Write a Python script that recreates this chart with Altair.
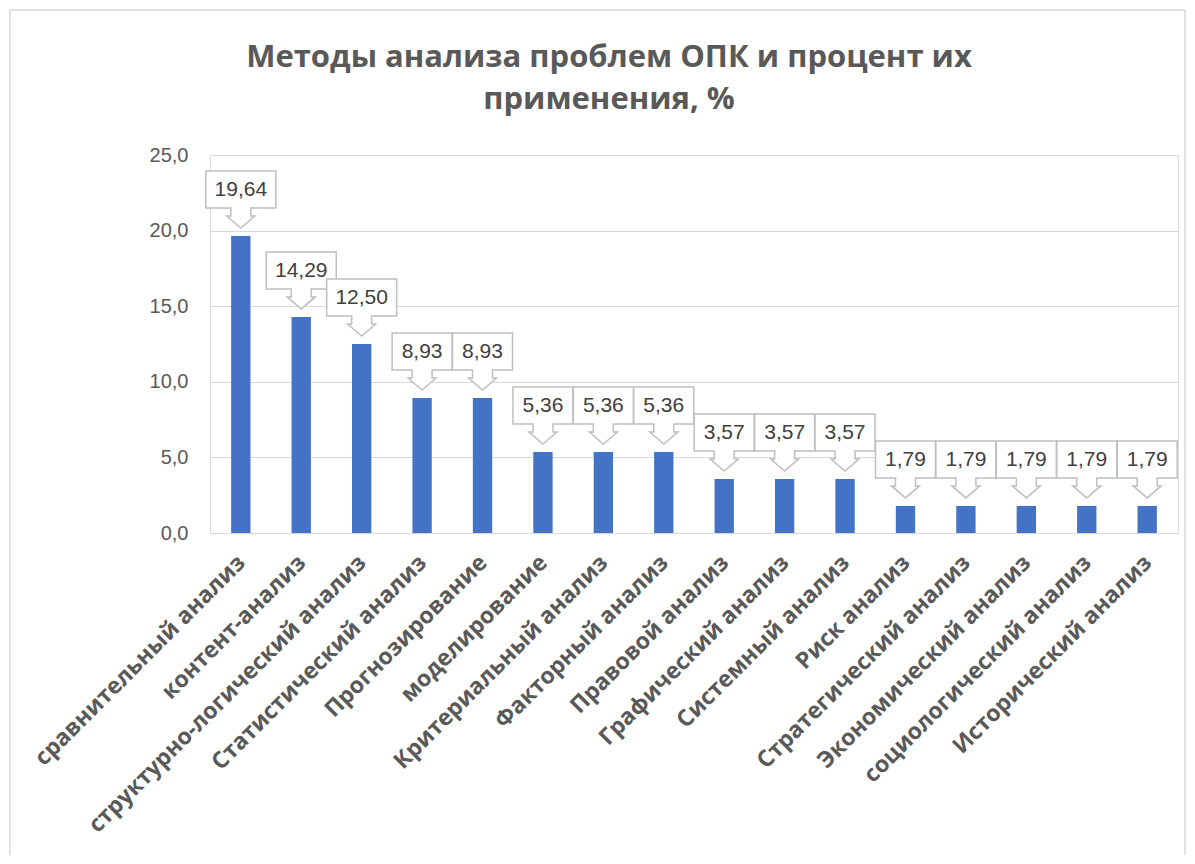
import altair as alt
import pandas as pd

categories = ["сравнительный анализ", "контент-анализ", "структурно-логический анализ",
              "Статистический анализ", "Прогнозирование", "моделирование",
              "Критериальный  анализ", "Факторный анализ", "Правовой анализ",
              "Графический анализ", "Системный анализ", "Риск анализ",
              "Стратегический анализ", "Экономический анализ",
              "социологический анализ", "Исторический анализ"]
values = [19.64, 14.29, 12.50, 8.93, 8.93, 5.36, 5.36, 5.36,
          3.57, 3.57, 3.57, 1.79, 1.79, 1.79, 1.79, 1.79]
title_lines = ["Методы анализа проблем ОПК и процент их", "применения, %"]

df = pd.DataFrame({"cat": categories, "v": values})
tdf = pd.DataFrame({"t": [title_lines[0]]})

GREY = "#595959"

def callout(hw):
    return (f"M {-hw} -6.5 L {hw} -6.5 L {hw} -2.8 L 1.0 -2.8 L 1.0 -2.0 L 1.4 -2.0 "
            f"L 0 -0.8 L -1.4 -2.0 L -1.0 -2.0 L -1.0 -2.8 L {-hw} -2.8 Z")

x = alt.X("cat:N", sort=None, title=None,
          scale=alt.Scale(paddingInner=0.68, paddingOuter=0.35),
          axis=alt.Axis(labelAngle=-45, labelFont="Open Sans", labelFontWeight="bold",
                        labelFontSize=23, labelColor=GREY, ticks=False, domainColor="#D9D9D9",
                        labelPadding=18, labelOffset=-7, labelLimit=0, grid=False))
y = alt.Y("v:Q", title=None,
          scale=alt.Scale(domain=[0, 25], nice=False),
          axis=alt.Axis(values=[0, 5, 10, 15, 20, 25], labelFont="Liberation Sans",
                        labelFontSize=20, labelColor=GREY, ticks=False, domain=False,
                        gridColor="#D9D9D9", gridWidth=1, labelPadding=22,
                        labelExpr="replace(format(datum.value, '.1f'), '.', ',')"))

base = alt.Chart(df).transform_calculate(
    label="replace(format(datum.v, '.2f'), '.', ',')"
)

border = alt.Chart(tdf).mark_rect(fill="transparent", stroke="#D9D9D9", strokeWidth=1.5).encode(
    x=alt.value(-200), x2=alt.value(975), y=alt.value(-145), y2=alt.value(720)
)

title = alt.Chart(tdf).mark_text(text=title_lines, font="Open Sans", fontSize=31,
                                 fontWeight="bold", color=GREY, lineHeight=42,
                                 baseline="middle", align="center").encode(
    x=alt.value(399), y=alt.value(-97)
)

bars = base.mark_bar(color="#4472C4").encode(x=x, y=y)

boxes = base.mark_point(filled=True, fill="white", stroke="#BFBFBF", strokeWidth=1.5,
                        opacity=1, size=400).encode(
    x=alt.X("cat:N", sort=None),
    y=alt.Y("v:Q"),
    shape=alt.condition("length(datum.label) > 4", alt.value(callout(3.5)), alt.value(callout(3.0)))
)

texts = base.mark_text(font="Liberation Sans", fontSize=21, color="#404040",
                       baseline="middle", dy=-46).encode(
    x=alt.X("cat:N", sort=None),
    y=alt.Y("v:Q"),
    text="label:N"
)

chart = alt.layer(border, title, bars, boxes, texts).properties(
    width=968, height=378,
    autosize=alt.AutoSizeParams(type="none"),
    padding={"left": 202, "top": 147, "right": 9, "bottom": 322},
).configure_view(strokeWidth=0).configure(background="white")

chart.save("out.html", embed_options={"renderer": "svg", "actions": False})
